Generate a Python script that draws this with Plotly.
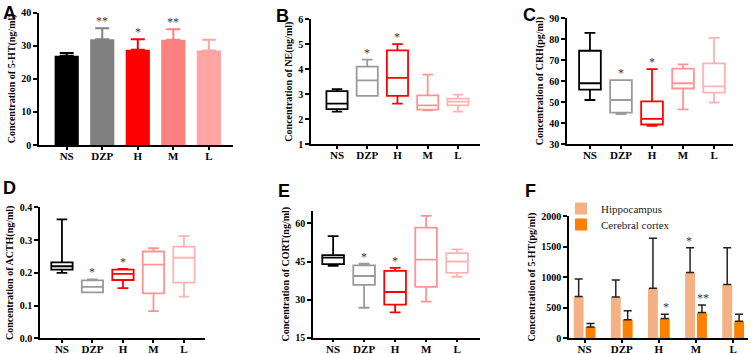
import plotly.graph_objects as go

# ---------------- data ----------------
groups = ["NS", "DZP", "H", "M", "L"]

# Panel A: serum 5-HT (ng/ml), mean and SD
a_mean = [27.0, 32.0, 28.8, 31.8, 28.6]
a_err = [0.8, 3.3, 3.2, 3.2, 3.2]
a_sig = ["", "**", "*", "**", ""]

# Panel B: NE (ng/ml) box stats
b_low = [2.30, 2.93, 2.62, 2.35, 2.30]
b_q1 = [2.40, 2.93, 2.93, 2.38, 2.55]
b_med = [2.62, 3.55, 3.65, 2.55, 2.70]
b_q3 = [3.12, 4.10, 4.75, 2.95, 2.82]
b_high = [3.20, 4.38, 5.00, 3.78, 2.98]
b_sig = ["", "*", "*", "", ""]

# Panel C: CRH (pg/ml)
c_low = [51.0, 44.3, 38.7, 46.5, 49.8]
c_q1 = [56.0, 45.0, 39.3, 56.5, 54.5]
c_med = [59.0, 51.0, 42.0, 59.0, 57.5]
c_q3 = [74.5, 60.5, 50.3, 66.0, 68.5]
c_high = [83.0, 60.5, 65.7, 68.0, 80.7]
c_sig = ["", "*", "*", "", ""]

# Panel D: ACTH (ng/ml)
d_low = [0.200, 0.140, 0.153, 0.083, 0.127]
d_q1 = [0.210, 0.140, 0.178, 0.137, 0.170]
d_med = [0.220, 0.157, 0.197, 0.225, 0.246]
d_q3 = [0.232, 0.177, 0.210, 0.265, 0.280]
d_high = [0.363, 0.180, 0.212, 0.275, 0.312]
d_sig = ["", "*", "*", "", ""]

# Panel E: CORT (ng/ml)
e_low = [43.3, 26.8, 25.0, 29.2, 39.0]
e_q1 = [44.0, 35.8, 28.0, 35.0, 40.5]
e_med = [46.5, 39.3, 33.0, 45.7, 45.0]
e_q3 = [47.5, 43.5, 41.3, 58.3, 48.3]
e_high = [55.0, 44.2, 42.5, 63.0, 49.8]
e_sig = ["", "*", "*", "", ""]

# Panel F: brain 5-HT (pg/ml)
f_hippo = [685, 675, 820, 1075, 880]
f_hippo_err = [285, 280, 815, 405, 600]
f_hippo_sig = ["", "", "", "*", ""]
f_cortex = [185, 305, 325, 420, 280]
f_cortex_err = [55, 145, 70, 125, 115]
f_cortex_sig = ["", "", "*", "**", ""]

bar_colors = ["#000000", "#808080", "#ff0000", "#ff8080", "#ffa3a3"]
box_colors = ["#000000", "#9a9a9a", "#ff0000", "#ff9494", "#ffb3b3"]
hippo_color = "#f4b183"
cortex_color = "#ff7f00"

SERIF = "Liberation Serif"
W, H = 753, 354

fig = go.Figure()

# ---- Panel A: bars with per-group colours ----
for i, g in enumerate(groups):
    fig.add_trace(go.Bar(
        x=[g], y=[a_mean[i]], xaxis="x", yaxis="y",
        marker=dict(color=bar_colors[i], line=dict(width=0)),
        width=0.68, offset=-0.34,
        error_y=dict(type="data", array=[a_err[i]], arrayminus=[0], color=bar_colors[i],
                     thickness=2, width=7),
        showlegend=False, hoverinfo="skip"))

# ---- Panels B-E: box plots ----
box_sets = [
    ("x2", "y2", b_low, b_q1, b_med, b_q3, b_high),
    ("x3", "y3", c_low, c_q1, c_med, c_q3, c_high),
    ("x4", "y4", d_low, d_q1, d_med, d_q3, d_high),
    ("x5", "y5", e_low, e_q1, e_med, e_q3, e_high),
]
for xa, ya, lo, q1, med, q3, hi in box_sets:
    for i, g in enumerate(groups):
        fig.add_trace(go.Box(
            x=[g], q1=[q1[i]], median=[med[i]], q3=[q3[i]],
            lowerfence=[lo[i]], upperfence=[hi[i]],
            xaxis=xa, yaxis=ya, width=0.7, whiskerwidth=0.5,
            line=dict(color=box_colors[i], width=1.8),
            fillcolor="rgba(255,255,255,0)", boxpoints=False,
            showlegend=False, hoverinfo="skip"))

# ---- Panel F: grouped bars ----
fig.add_trace(go.Bar(
    x=groups, y=f_hippo, name="Hippocampus", xaxis="x6", yaxis="y6", legend="legend",
    marker=dict(color=hippo_color, line=dict(width=0)),
    error_y=dict(type="data", array=f_hippo_err, arrayminus=[0] * 5, color="#222222",
                 thickness=1.5, width=4),
    hoverinfo="skip"))
fig.add_trace(go.Bar(
    x=groups, y=f_cortex, name="Cerebral cortex", xaxis="x6", yaxis="y6", legend="legend2",
    marker=dict(color=cortex_color, line=dict(width=0)),
    error_y=dict(type="data", array=f_cortex_err, arrayminus=[0] * 5, color="#222222",
                 thickness=1.5, width=4),
    hoverinfo="skip"))

# ---------------- axes ----------------
def px_x(a, b):
    return [a / W, b / W]

def px_y(top, bottom):
    return [1 - bottom / H, 1 - top / H]

tickfont = dict(family=SERIF, size=10, color="#000", weight="bold")
xtickfont = dict(family=SERIF, size=11, color="#000", weight="bold")

def xaxis(domain, rng, anchor):
    return dict(domain=domain, range=rng, anchor=anchor, type="category",
                categoryorder="array", categoryarray=groups, automargin=False,
                showline=True, linecolor="#000", linewidth=1.5,
                ticks="outside", ticklen=3, tickwidth=1.5, tickcolor="#000",
                ticklabelstandoff=-3,
                tickfont=xtickfont, showgrid=False, zeroline=False, fixedrange=True)

def yaxis(domain, rng, dtick, title, anchor, fmt=None):
    d = dict(domain=domain, range=rng, anchor=anchor, dtick=dtick, tick0=rng[0],
             automargin=False,
             showline=True, linecolor="#000", linewidth=1.5,
             ticks="outside", ticklen=4, tickwidth=1.5, tickcolor="#000",
             tickfont=tickfont, showgrid=False, zeroline=False, fixedrange=True,
             title=dict(text=title, font=dict(family=SERIF, size=10, color="#000", weight="bold"),
                        standoff=4))
    if fmt:
        d["tickformat"] = fmt
    return d

layout_axes = dict(
    xaxis=xaxis(px_x(39, 233), [-0.78, 4.68], "y"),
    yaxis=yaxis(px_y(12.7, 145), [0, 40], 10, "Concentration of 5-HT(ng/ml)", "x"),
    xaxis2=xaxis(px_x(311, 480), [-0.86, 4.73], "y2"),
    yaxis2=yaxis(px_y(19, 144.3), [1, 6], 1, "Concentration of NE(ng/ml)", "x2"),
    xaxis3=xaxis(px_x(567, 733), [-0.74, 4.61], "y3"),
    yaxis3=yaxis(px_y(18.3, 144), [30, 90], 10, "Concentration of CRH(pg/ml)", "x3"),
    xaxis4=xaxis(px_x(40, 205), [-0.72, 4.69], "y4"),
    yaxis4=yaxis(px_y(207.3, 338.3), [0, 0.4], 0.1, "Concentration of ACTH(ng/ml)", "x4", ".1f"),
    xaxis5=xaxis(px_x(313, 480), [-0.65, 4.74], "y5"),
    yaxis5=yaxis(px_y(210.7, 337.7), [15, 65], 15, "Concentration of CORT(ng/ml)", "x5"),
    xaxis6=xaxis(px_x(569, 748), [-0.42, 4.4], "y6"),
    yaxis6=yaxis(px_y(216, 338.3), [0, 2000], 500, "Concentration of 5-HT(pg/ml)", "x6"),
)

# ---------------- significance marks ----------------
annotations = []
star_font = dict(family=SERIF, size=12, color="#3a3a3a")

def add_star(text, x, y, xref, yref):
    if text:
        annotations.append(dict(text=text, x=x, y=y, xref=xref, yref=yref,
                                showarrow=False, yanchor="bottom", yshift=-2,
                                font=star_font))

for i, g in enumerate(groups):
    add_star(a_sig[i], i, a_mean[i] + a_err[i], "x", "y")
    add_star(b_sig[i], i, b_high[i], "x2", "y2")
    add_star(c_sig[i], i, c_high[i], "x3", "y3")
    add_star(d_sig[i], i, d_high[i], "x4", "y4")
    add_star(e_sig[i], i, e_high[i], "x5", "y5")
    add_star(f_hippo_sig[i], i - 0.19, f_hippo[i] + f_hippo_err[i], "x6", "y6")
    add_star(f_cortex_sig[i], i + 0.19, f_cortex[i] + f_cortex_err[i], "x6", "y6")

# panel letters
letters = [("A", 1, 1), ("B", 274, 4), ("C", 521, 3), ("D", 1, 176), ("E", 276, 179), ("F", 523, 179)]
for t, lx, ly in letters:
    annotations.append(dict(text=t, x=lx / W, y=1 - ly / H, xref="paper", yref="paper",
                            xanchor="left", yanchor="top", showarrow=False,
                            font=dict(family="Liberation Sans", size=18, color="#000", weight="bold")))

legend_style = dict(xanchor="left", yanchor="top",
                    font=dict(family=SERIF, size=11, color="#222"),
                    bgcolor="rgba(0,0,0,0)", itemsizing="constant")

fig.update_layout(
    template="none",
    width=W, height=H,
    margin=dict(l=0, r=0, t=0, b=0),
    paper_bgcolor="white", plot_bgcolor="white",
    barmode="group", bargap=0.36, bargroupgap=0.17,
    boxmode="overlay",
    showlegend=True,
    legend=dict(x=561 / W, y=1 - 194 / H, **legend_style),
    legend2=dict(x=561 / W, y=1 - 210 / H, **legend_style),
    annotations=annotations,
    **layout_axes,
)

fig.write_html("out.html", config={"displayModeBar": False},
               post_script="document.body.style.margin='0';document.body.style.overflow='hidden';")
